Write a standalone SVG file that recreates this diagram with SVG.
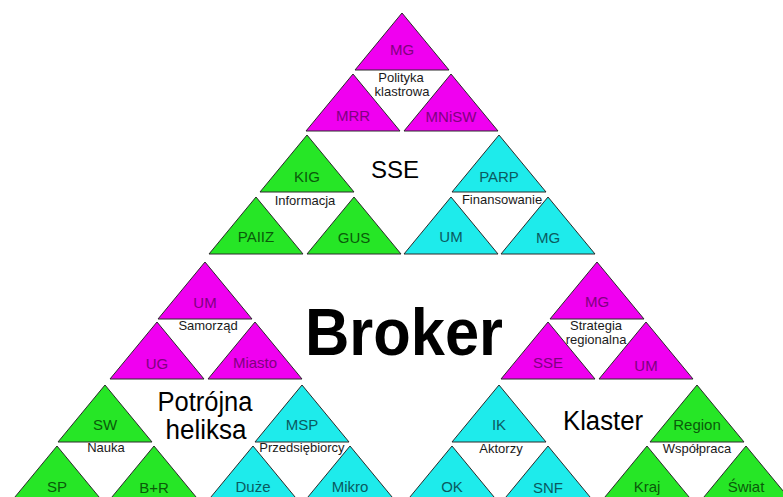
<svg xmlns="http://www.w3.org/2000/svg" xmlns:xlink="http://www.w3.org/1999/xlink" width="783" height="497" viewBox="0 0 783 497">
<style>
  text { font-family: "Liberation Sans", Arial, sans-serif; text-anchor: middle; }
  .tri { stroke: #2a2a2a; stroke-width: 1; stroke-linejoin: miter; }
  .mag { fill: #F000F0; }
  .grn { fill: #26E626; }
  .cyn { fill: #1EEBEB; }
  .tm { fill: #800080; font-size: 15px; }
  .tg { fill: #0A5A0A; font-size: 15px; }
  .tc { fill: #0A5A5F; font-size: 15px; }
  .lbl { fill: #1a1a1a; font-size: 13px; }
  .big { fill: #000; font-size: 27px; }
</style>
<defs>
  <path id="tri" d="M0,0 L47,57 L-47,57 Z"/>
</defs>
<rect width="783" height="497" fill="#ffffff"/>

<g id="sse-group">
  <g id="n-mg-top"><use xlink:href="#tri" x="402" y="13" class="tri mag"/><text x="402" y="55" class="tm">MG</text></g>
  <g id="n-mrr"><use xlink:href="#tri" x="353" y="74" class="tri mag"/><text x="353" y="121" class="tm">MRR</text></g>
  <g id="n-mnisw"><use xlink:href="#tri" x="451" y="74" class="tri mag"/><text x="451" y="122" class="tm">MNiSW</text></g>
  <g id="l-polityka"><text x="401" y="82" class="lbl">Polityka</text><text x="402" y="96" class="lbl">klastrowa</text></g>

  <g id="n-kig"><use xlink:href="#tri" x="307" y="135" class="tri grn"/><text x="307" y="182" class="tg">KIG</text></g>
  <g id="n-paiiz"><use xlink:href="#tri" x="256" y="197" class="tri grn"/><text x="256" y="242" class="tg">PAIIZ</text></g>
  <g id="n-gus"><use xlink:href="#tri" x="354" y="197" class="tri grn"/><text x="354" y="243" class="tg">GUS</text></g>
  <g id="l-informacja"><text x="305" y="205" class="lbl">Informacja</text></g>

  <g id="n-parp"><use xlink:href="#tri" x="499" y="135" class="tri cyn"/><text x="499" y="182" class="tc">PARP</text></g>
  <g id="n-um1"><use xlink:href="#tri" x="451" y="197" class="tri cyn"/><text x="451" y="242" class="tc">UM</text></g>
  <g id="n-mg2"><use xlink:href="#tri" x="548" y="197" class="tri cyn"/><text x="548" y="243" class="tc">MG</text></g>
  <g id="l-finansowanie"><text x="502" y="204" class="lbl">Finansowanie</text></g>

  <g id="l-sse"><text x="395" y="178" style="font-size:24px;fill:#000">SSE</text></g>
</g>

<g id="heliksa-group">
  <g id="n-um2"><use xlink:href="#tri" x="205" y="262" class="tri mag"/><text x="205" y="308" class="tm">UM</text></g>
  <g id="n-ug"><use xlink:href="#tri" x="157" y="322" class="tri mag"/><text x="157" y="369" class="tm">UG</text></g>
  <g id="n-miasto"><use xlink:href="#tri" x="255" y="322" class="tri mag"/><text x="255" y="368" class="tm">Miasto</text></g>
  <g id="l-samorzad"><text x="208" y="330" class="lbl">Samorząd</text></g>

  <g id="n-sw"><use xlink:href="#tri" x="105" y="385" class="tri grn"/><text x="105" y="430" class="tg">SW</text></g>
  <g id="n-sp"><use xlink:href="#tri" x="57" y="446" class="tri grn"/><text x="57" y="492" class="tg">SP</text></g>
  <g id="n-br"><use xlink:href="#tri" x="154" y="446" class="tri grn"/><text x="154" y="493" class="tg">B+R</text></g>
  <g id="l-nauka"><text x="106" y="452" class="lbl">Nauka</text></g>

  <g id="n-msp"><use xlink:href="#tri" x="302" y="385" class="tri cyn"/><text x="302" y="430" class="tc">MSP</text></g>
  <g id="n-duze"><use xlink:href="#tri" x="253" y="446" class="tri cyn"/><text x="253" y="492" class="tc">Duże</text></g>
  <g id="n-mikro"><use xlink:href="#tri" x="350" y="446" class="tri cyn"/><text x="350" y="492" class="tc">Mikro</text></g>
  <g id="l-przedsiebiorcy"><text x="302" y="452" class="lbl">Przedsiębiorcy</text></g>

  <g id="l-heliksa"><text x="205" y="411" class="big" textLength="95" lengthAdjust="spacingAndGlyphs">Potrójna</text><text x="206" y="439" class="big" textLength="81" lengthAdjust="spacingAndGlyphs">heliksa</text></g>
</g>

<g id="klaster-group">
  <g id="n-mg3"><use xlink:href="#tri" x="597" y="262" class="tri mag"/><text x="597" y="307" class="tm">MG</text></g>
  <g id="n-sse"><use xlink:href="#tri" x="548" y="322" class="tri mag"/><text x="548" y="368" class="tm">SSE</text></g>
  <g id="n-um3"><use xlink:href="#tri" x="646" y="322" class="tri mag"/><text x="646" y="371" class="tm">UM</text></g>
  <g id="l-strategia"><text x="596" y="330" class="lbl">Strategia</text><text x="596" y="344" class="lbl">regionalna</text></g>

  <g id="n-ik"><use xlink:href="#tri" x="499" y="385" class="tri cyn"/><text x="499" y="430" class="tc">IK</text></g>
  <g id="n-ok"><use xlink:href="#tri" x="452" y="446" class="tri cyn"/><text x="452" y="492" class="tc">OK</text></g>
  <g id="n-snf"><use xlink:href="#tri" x="548" y="446" class="tri cyn"/><text x="548" y="493" class="tc">SNF</text></g>
  <g id="l-aktorzy"><text x="501" y="453" class="lbl">Aktorzy</text></g>

  <g id="n-region"><use xlink:href="#tri" x="697" y="385" class="tri grn"/><text x="697" y="430" class="tg">Region</text></g>
  <g id="n-kraj"><use xlink:href="#tri" x="647" y="446" class="tri grn"/><text x="647" y="492" class="tg">Kraj</text></g>
  <g id="n-swiat"><use xlink:href="#tri" x="746" y="446" class="tri grn"/><text x="746" y="492" class="tg">Świat</text></g>
  <g id="l-wspolpraca"><text x="697" y="453" class="lbl">Współpraca</text></g>

  <g id="l-klaster"><text x="603" y="430" class="big" textLength="80" lengthAdjust="spacingAndGlyphs">Klaster</text></g>
</g>

<g id="l-broker"><text x="404" y="355" style="font-size:66px;font-weight:bold;fill:#000" textLength="198" lengthAdjust="spacingAndGlyphs">Broker</text></g>
</svg>
